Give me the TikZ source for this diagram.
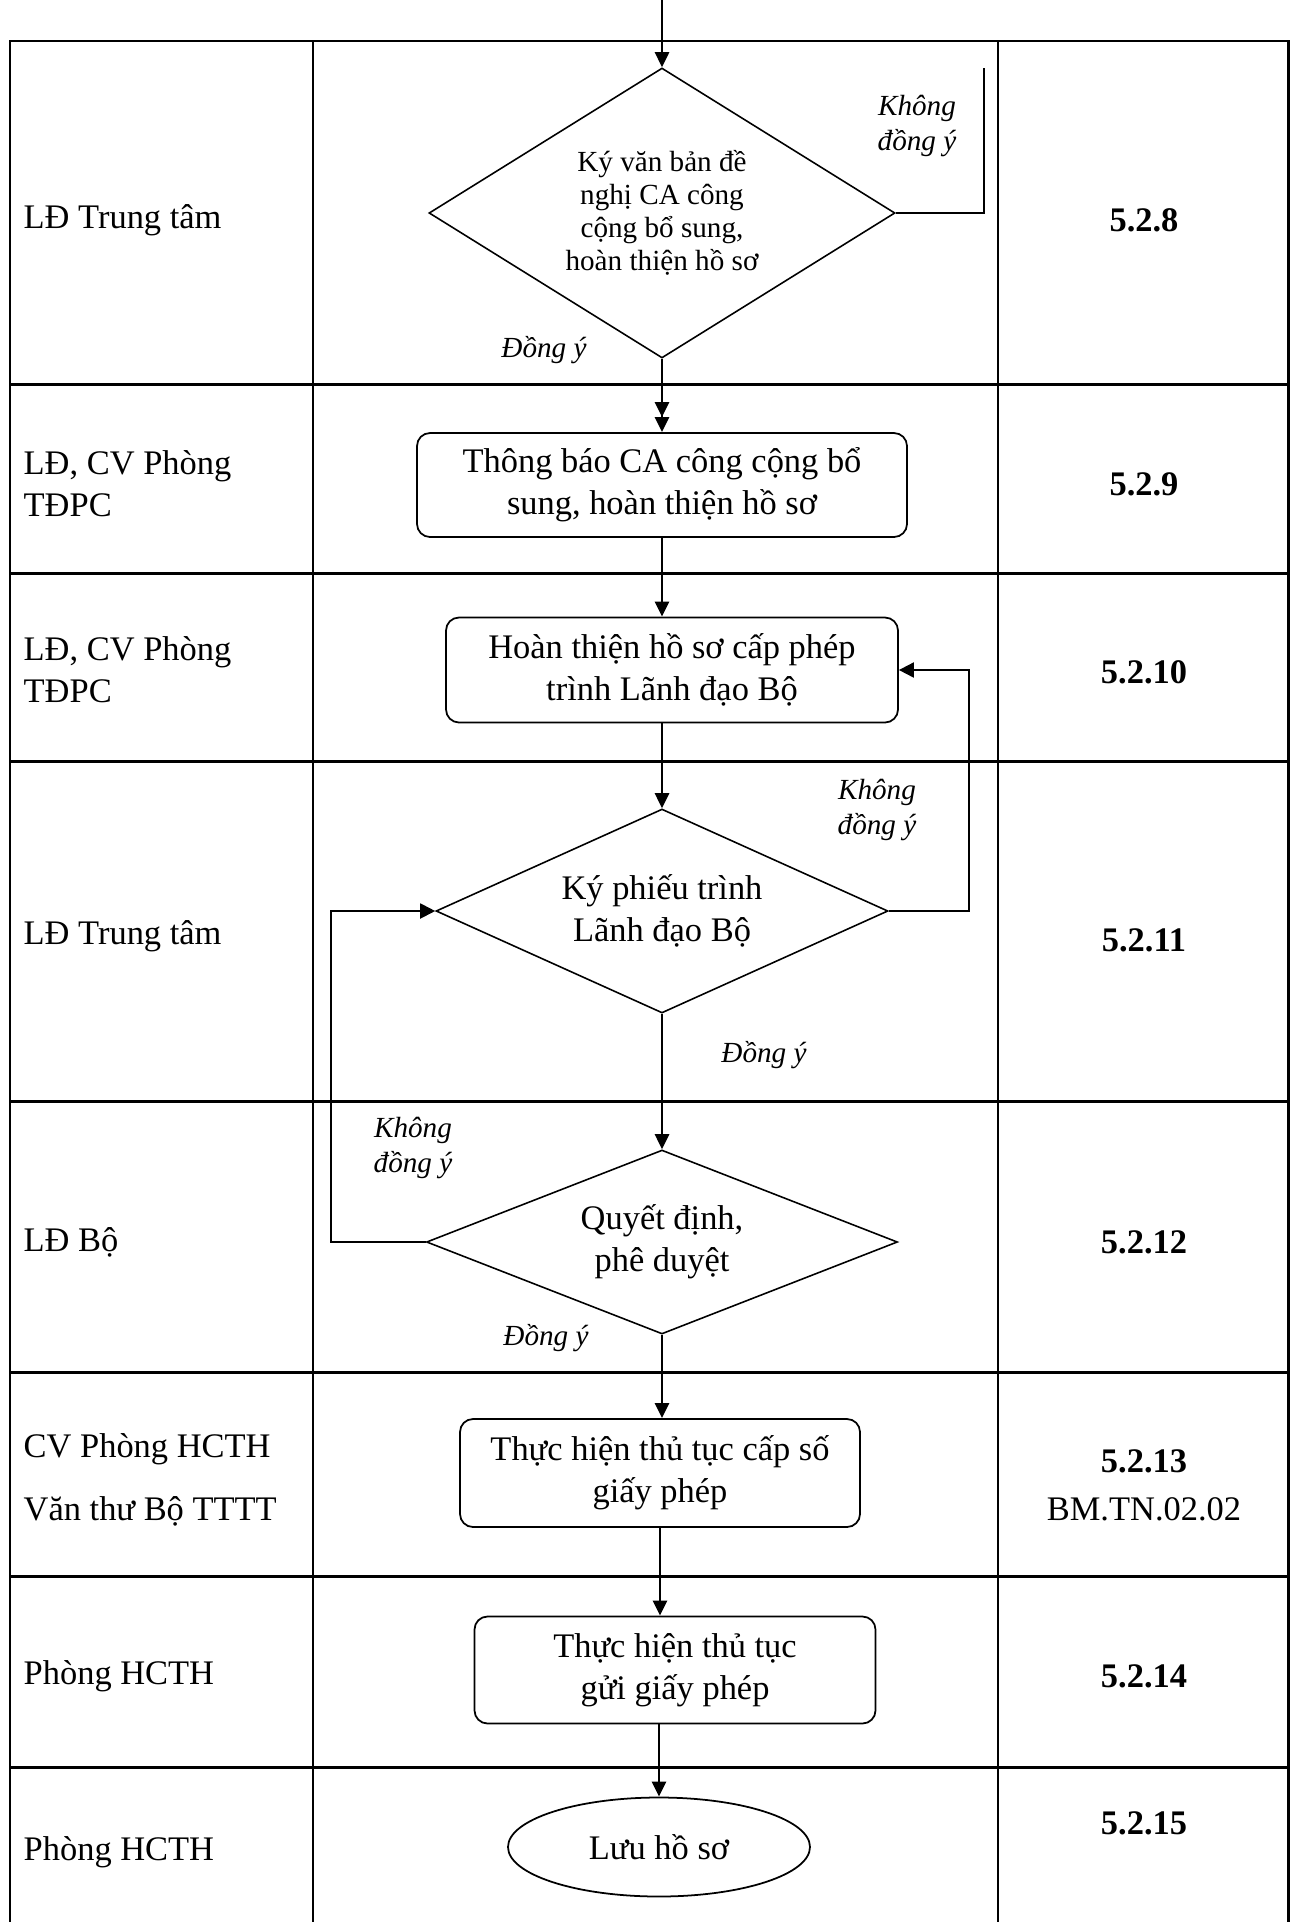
\documentclass[tikz,border=0pt]{standalone}
\usepackage{fontspec}
\setmainfont{Liberation Serif}
\usepackage{tikz}
\usetikzlibrary{shapes.geometric,arrows.meta,positioning}

\newcommand{\flowfont}{\fontsize{9.8}{11.9}\selectfont}
\newcommand{\smallflowfont}{\fontsize{8.3}{9.4}\selectfont}

\tikzset{
  tbl/.style={line width=0.85pt},
  tblv/.style={line width=0.65pt},
  stepbox/.style={draw, rounded corners=0.13cm, line width=0.5pt, align=center, inner sep=0pt},
  decision/.style={draw, diamond, aspect=2, inner sep=0pt, line width=0.45pt, align=center},
  terminal/.style={draw, ellipse, inner sep=0pt, line width=0.5pt},
  lane/.style={anchor=west, align=left, inner xsep=0pt},
  stepno/.style={align=center, font=\flowfont\bfseries},
  answer/.style={align=center, font=\fontsize{8.3}{10.2}\selectfont\itshape},
  arr/.style={line width=0.75pt, -{Triangle[length=0.15cm,width=0.14cm]}},
  arrtwo/.style={line width=0.75pt, -{Triangle[length=0.15cm,width=0.14cm] Triangle[length=0.15cm,width=0.14cm]}},
  loopline/.style={line width=0.55pt},
  looparr/.style={line width=0.55pt, -{Triangle[length=0.15cm,width=0.15cm]}},
}

\begin{document}
\begin{tikzpicture}[font=\flowfont]
\useasboundingbox (0,0) rectangle (12.95,-19.22);

% swimlane table
\draw[tbl] (0.10,-19.22) -- (0.10,-0.41) -- (12.88,-0.41) -- (12.88,-19.22);
\foreach \x in {3.13,9.98} \draw[tblv] (\x,-0.41) -- (\x,-19.22);
\foreach \y in {3.84,5.73,7.61,11.01,13.72,15.76,17.67} \draw[tbl] (0.10,-\y) -- (12.88,-\y);

% who does it
\node[lane] (r1) at (0.23,-2.20) {LĐ Trung tâm};
\node[lane] (r2) at (0.23,-4.84) {LĐ, CV Phòng\\TĐPC};
\node[lane] (r3) at (0.23,-6.70) {LĐ, CV Phòng\\TĐPC};
\node[lane] (r4) at (0.23,-9.36) {LĐ Trung tâm};
\node[lane] (r5) at (0.23,-12.42) {LĐ Bộ};
\node[lane] (r6) at (0.23,-14.80) {CV Phòng HCTH\\[0.21cm]Văn thư Bộ TTTT};
\node[lane] (r7) at (0.23,-16.76) {Phòng HCTH};
\node[lane] (r8) at (0.23,-18.52) {Phòng HCTH};

% step numbers
\node[stepno] (n1) at (11.44,-2.20) {5.2.8};
\node[stepno] (n2) at (11.44,-4.84) {5.2.9};
\node[stepno] (n3) at (11.44,-6.72) {5.2.10};
\node[stepno] (n4) at (11.44,-9.40) {5.2.11};
\node[stepno] (n5) at (11.44,-12.42) {5.2.12};
\node[stepno] (n6) at (11.44,-14.85) {5.2.13\\[0.06cm]{\mdseries BM.TN.02.02}};
\node[stepno] (n7) at (11.44,-16.76) {5.2.14};
\node[stepno] (n8) at (11.44,-18.23) {5.2.15};

% flow
\coordinate (start) at (6.62,0);
\node[decision, minimum width=4.66cm, minimum height=2.90cm, font=\smallflowfont] (d1) at (6.62,-2.13) {Ký văn bản đề\\nghị CA công\\cộng bổ sung,\\hoàn thiện hồ sơ};
\node[stepbox, minimum width=4.90cm, minimum height=1.04cm] (b2) at (6.62,-4.85) {Thông báo CA công cộng bổ\\sung, hoàn thiện hồ sơ};
\node[stepbox, minimum width=4.52cm, minimum height=1.05cm] (b3) at (6.72,-6.70) {Hoàn thiện hồ sơ cấp phép\\trình Lãnh đạo Bộ};
\node[decision, minimum width=4.52cm, minimum height=2.04cm] (d2) at (6.62,-9.11) {Ký phiếu trình\\Lãnh đạo Bộ};
\node[decision, minimum width=4.71cm, minimum height=1.84cm] (d3) at (6.62,-12.42) {Quyết định,\\phê duyệt};
\node[stepbox, minimum width=4.00cm, minimum height=1.08cm] (b6) at (6.60,-14.73) {Thực hiện thủ tục cấp số\\giấy phép};
\node[stepbox, minimum width=4.01cm, minimum height=1.07cm] (b7) at (6.75,-16.70) {Thực hiện thủ tục\\gửi giấy phép};
\node[terminal, minimum width=3.02cm, minimum height=0.99cm] (e8) at (6.59,-18.47) {Lưu hồ sơ};

\draw[arr] (start) -- (d1.north);
\draw[arrtwo] (d1.south) -- (b2.north);
\draw[arr] (b2.south) -- (b2.south |- b3.north);
\draw[arr] (d2.north |- b3.south) -- (d2.north);
\draw[arr] (d2.south) -- (d3.north);
\draw[arr] (d3.south) -- (d3.south |- b6.north);
\draw[arr] (b6.south) -- (b6.south |- b7.north);
\draw[arr] (e8.north |- b7.south) -- (e8.north);

% disagree branches
\coordinate (k1end) at (9.84,-0.68);
\draw[loopline] (d1.east) -| (k1end);
\draw[looparr] (d2.east) -| ([xshift=0.70cm]b3.east) -- (b3.east);
\draw[looparr] (d3.west) -| ([xshift=-1.04cm]d2.west) -- (d2.west);

\node[answer] (k1) at (9.17,-1.26) {Không\\đồng ý};
\node[answer] (a1) at (5.44,-3.50) {Đồng ý};
\node[answer] (k2) at (8.77,-8.10) {Không\\đồng ý};
\node[answer] (a2) at (7.64,-10.55) {Đồng ý};
\node[answer] (k3) at (4.13,-11.48) {Không\\đồng ý};
\node[answer] (a3) at (5.46,-13.38) {Đồng ý};
\end{tikzpicture}
\end{document}
